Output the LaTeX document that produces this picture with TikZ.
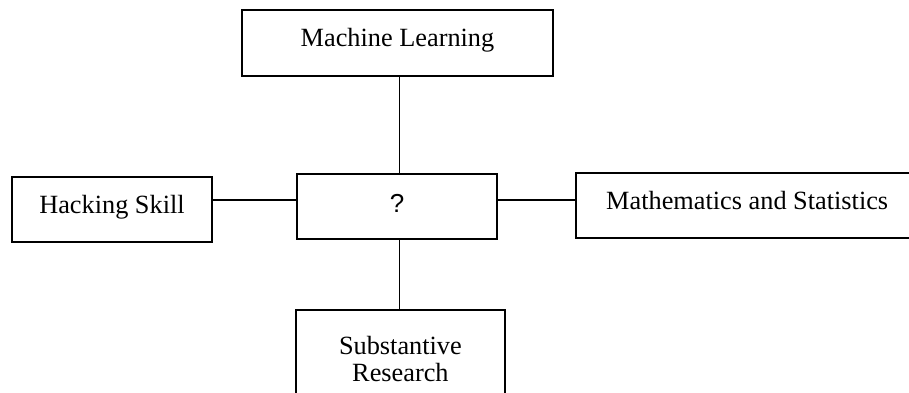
\documentclass[tikz,border=0pt]{standalone}
\usepackage{fontspec}
\setmainfont{Liberation Serif}
\newfontfamily\sansq{Liberation Sans}
\begin{document}
\begin{tikzpicture}[x=1pt,y=-1pt,
  box/.style={draw=black, line width=1.9pt, rectangle, inner sep=0pt, outer sep=0pt,
    font=\fontsize{26.3}{27.4}\selectfont},
  tb/.style={text height=18pt, text depth=11pt},
  link/.style={draw=black, line width=1.3pt}]
\useasboundingbox (0,0) rectangle (909,393);
\node[box, tb, minimum width=311.6pt, minimum height=65.4pt] (ml) at (397.5,43) {Machine Learning};
\node[box, tb, minimum width=199.4pt, minimum height=65pt] (hack) at (112,209.8) {Hacking Skill};
\node[box, minimum width=199.4pt, minimum height=65pt, font=\sansq\fontsize{26}{28}\selectfont,
  text height=18pt, text depth=6pt] (q) at (397,206.8) {?};
\node[box, tb, minimum width=343pt, minimum height=65pt] (math) at (747.2,205.8) {Mathematics and Statistics};
\node[box, anchor=north, minimum width=209.3pt, inner xsep=0pt, inner ysep=24pt, align=center] (sub)
  at (400.4,310.3) {\rule{0pt}{20pt}Substantive\\Research};
\draw[link] ([xshift=2pt]ml.south) -- ([xshift=2pt]ml.south |- q.north);
\draw[link] ([yshift=9.8pt]hack.east) -- ([yshift=9.8pt]hack.east -| q.west);
\draw[link] ([yshift=6.8pt]q.east) -- ([yshift=6.8pt]q.east -| math.west);
\draw[link] ([xshift=2.3pt]q.south) -- ([xshift=2.3pt]q.south |- sub.north);
\end{tikzpicture}
\end{document}
